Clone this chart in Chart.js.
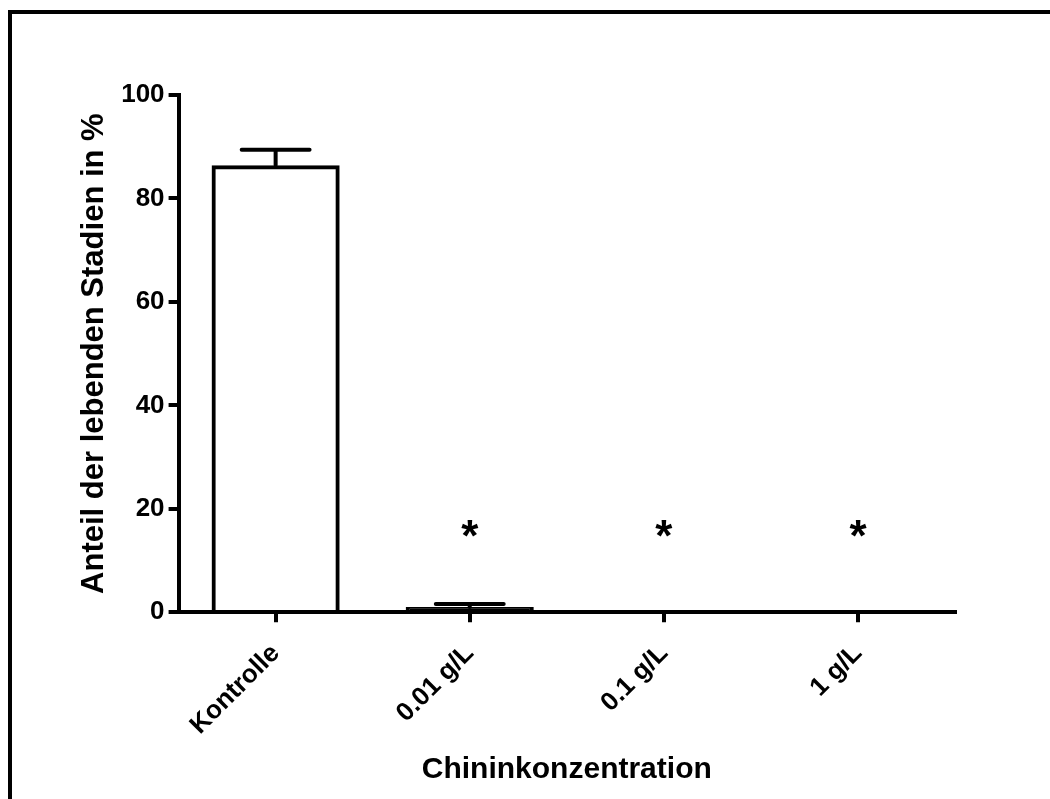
<!DOCTYPE html>
<html>
<head>
<meta charset="utf-8">
<script src="https://cdn.jsdelivr.net/npm/chart.js@4"></script>
<style>
  body { margin: 0; background: #fff; }
  #wrap { position: relative; width: 1050px; height: 799px; overflow: hidden; }
  #frame { position: absolute; left: 8px; top: 10px; width: 1100px; height: 850px;
           border-left: 4px solid #000; border-top: 4px solid #000; }
  canvas { position: absolute; left: 0; top: 0; }
</style>
</head>
<body>
<div id="wrap">
  <div id="frame"></div>
  <canvas id="chart" width="1050" height="799"></canvas>
</div>
<script>
// Data
const categories = ['Kontrolle', '0.01 g/L', '0.1 g/L', '1 g/L'];
const means = [86.4, 1.0, 0, 0];
const errors = [3.0, 0.6, 0, 0];
const sigMarks = ['', '*', '*', '*'];
const sigLevel = [15.5, 15.5, 15.5, 15.5];
const yTicks = [0, 20, 40, 60, 80, 100];

const FONT = '"Liberation Sans", Arial, sans-serif';

// error bars (upper only) + significance stars
const errorBarPlugin = {
  id: 'errorBars',
  afterDatasetsDraw(chart) {
    const { ctx, scales: { x, y } } = chart;
    const meta = chart.getDatasetMeta(0);
    ctx.save();
    ctx.strokeStyle = '#000';
    ctx.lineWidth = 4;
    ctx.lineCap = 'round';
    meta.data.forEach((bar, i) => {
      if (!errors[i]) return;
      const cx = bar.x;
      const top = y.getPixelForValue(means[i] + errors[i]);
      const half = bar.width * 0.265;
      ctx.beginPath();
      ctx.moveTo(cx, y.getPixelForValue(means[i]));
      ctx.lineTo(cx, top);
      ctx.moveTo(cx - half, top);
      ctx.lineTo(cx + half, top);
      ctx.stroke();
    });
    ctx.fillStyle = '#000';
    ctx.font = 'bold 44px ' + FONT;
    ctx.textAlign = 'center';
    ctx.textBaseline = 'middle';
    sigMarks.forEach((m, i) => {
      if (!m) return;
      ctx.fillText(m, x.getPixelForValue(i), y.getPixelForValue(sigLevel[i]) + 7);
    });
    ctx.restore();
  }
};

new Chart(document.getElementById('chart'), {
  type: 'bar',
  data: {
    labels: categories,
    datasets: [{
      data: means,
      // very short bars read as solid black in the original
      backgroundColor: means.map(v => v < 3 ? '#000' : 'rgba(255,255,255,0)'),
      borderColor: '#000',
      borderWidth: 4,
      borderSkipped: 'start',
      categoryPercentage: 1,
      barPercentage: 0.66
    }]
  },
  options: {
    responsive: false,
    animation: false,
    layout: { padding: { left: 72, right: 95, top: 95, bottom: 7 } },
    plugins: { legend: { display: false }, tooltip: { enabled: false } },
    scales: {
      x: {
        grid: { offset: false, drawOnChartArea: false, tickLength: 10, tickColor: '#000', lineWidth: 4 },
        border: { color: '#000', width: 4 },
        ticks: { color: '#000', font: { family: FONT, size: 26, weight: 'bold' }, minRotation: 45, maxRotation: 45, padding: 16 },
        title: { display: true, text: 'Chininkonzentration', color: '#000', font: { family: FONT, size: 30, weight: 'bold' }, padding: { top: -5 } }
      },
      y: {
        min: 0, max: 100,
        afterBuildTicks: axis => { axis.ticks = yTicks.map(v => ({ value: v })); },
        grid: { drawOnChartArea: false, tickLength: 10, tickColor: '#000', lineWidth: 4 },
        border: { color: '#000', width: 4 },
        ticks: { color: '#000', font: { family: FONT, size: 26, weight: 'bold' }, padding: 4 },
        title: { display: true, text: 'Anteil der lebenden Stadien in %', color: '#000', font: { family: FONT, size: 31, weight: 'bold' }, padding: { bottom: 4 } }
      }
    }
  },
  plugins: [errorBarPlugin]
});
</script>
</body>
</html>
